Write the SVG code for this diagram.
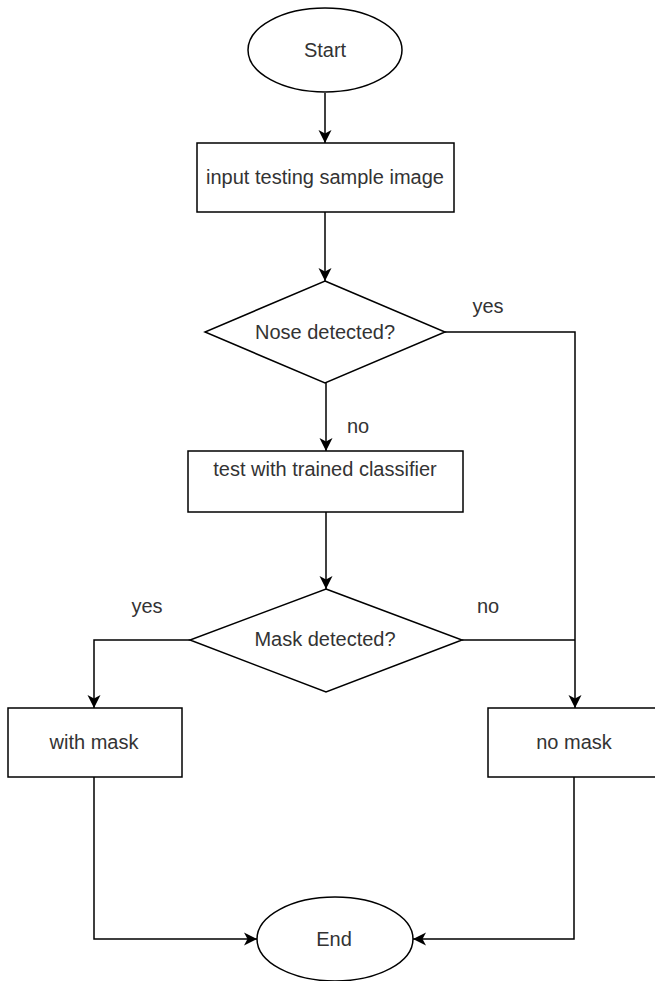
<svg xmlns="http://www.w3.org/2000/svg" width="655" height="981" viewBox="0 0 655 981">
<defs>
<marker id="arr" viewBox="0 0 14 14" refX="13" refY="7" markerWidth="14" markerHeight="14" markerUnits="userSpaceOnUse" orient="auto">
<path d="M0,0.5 L13,7 L0,13.5 L3.5,7 Z" fill="#000"/>
</marker>
</defs>
<style>
.s{fill:#fff;stroke:#000;stroke-width:1.5}
.t{font-family:"Liberation Sans",Arial,sans-serif;font-size:20px;fill:#333;text-anchor:middle;dominant-baseline:central}
.c{fill:none;stroke:#000;stroke-width:1.5;marker-end:url(#arr)}
.l{fill:none;stroke:#000;stroke-width:1.5}
</style>
<rect width="655" height="981" fill="#fff"/>
<g id="connectors">
<path class="c" d="M325,93 V143"/>
<path class="c" d="M325,212 V281"/>
<path class="c" d="M326,383 V451"/>
<path class="c" d="M326,512 V589"/>
<path class="c" d="M445,332 H575 V708"/>
<path class="l" d="M462,640 H575"/>
<path class="c" d="M190,640 H94 V708"/>
<path class="c" d="M94,777 V939 H257"/>
<path class="c" d="M574,777 V939 H413"/>
</g>
<g id="start"><ellipse class="s" cx="325" cy="50" rx="77" ry="42"/><text class="t" x="325" y="50">Start</text></g>
<g id="input"><rect class="s" x="197" y="143" width="257" height="69"/><text class="t" x="325" y="177">input testing sample image</text></g>
<g id="nose"><polygon class="s" points="325,281 445,332 325,383 205,332"/><text class="t" x="325" y="332">Nose detected?</text></g>
<g id="test"><rect class="s" x="188" y="451" width="275" height="61"/><text class="t" x="325" y="469">test with trained classifier</text></g>
<g id="mask"><polygon class="s" points="326,589 462,640 326,692 190,640"/><text class="t" x="325" y="639">Mask detected?</text></g>
<g id="withmask"><rect class="s" x="8" y="708" width="174" height="69"/><text class="t" x="94" y="742">with mask</text></g>
<g id="nomask"><rect class="s" x="488" y="708" width="174" height="69"/><text class="t" x="574" y="742">no mask</text></g>
<g id="end"><ellipse class="s" cx="335" cy="939" rx="78" ry="42"/><text class="t" x="334" y="939">End</text></g>
<g id="labels">
<text class="t" x="488" y="306">yes</text>
<text class="t" x="358" y="426">no</text>
<text class="t" x="147" y="606">yes</text>
<text class="t" x="488" y="606">no</text>
</g>
</svg>
